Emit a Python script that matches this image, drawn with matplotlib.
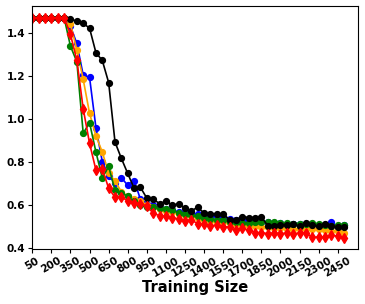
import matplotlib
matplotlib.use("Agg")
import matplotlib.pyplot as plt

train_size = [50, 100, 150, 200, 250, 300, 350, 400, 450, 500,
              550, 600, 650, 700, 750, 800, 850, 900, 950, 1000,
              1050, 1100, 1150, 1200, 1250, 1300, 1350, 1400, 1450, 1500,
              1550, 1600, 1650, 1700, 1750, 1800, 1850, 1900, 1950, 2000,
              2050, 2100, 2150, 2200, 2250, 2300, 2350, 2400, 2450, 2500]

blue = [1.47, 1.47, 1.47, 1.47, 1.47, 1.47, 1.43, 1.350, 1.203, 1.192,
        0.958, 0.800, 0.735, 0.700, 0.725, 0.690, 0.712, 0.625, 0.605, 0.598,
        0.585, 0.580, 0.575, 0.565, 0.565, 0.560, 0.555, 0.550, 0.548, 0.545,
        0.540, 0.535, 0.530, 0.530, 0.525, 0.520, 0.520, 0.518, 0.515, 0.515,
        0.512, 0.512, 0.510, 0.510, 0.508, 0.505, 0.505, 0.521, 0.495, 0.505]

orange = [1.47, 1.47, 1.47, 1.47, 1.47, 1.47, 1.44, 1.32, 1.183, 1.025,
          0.920, 0.845, 0.746, 0.710, 0.660, 0.640, 0.625, 0.615, 0.600, 0.590,
          0.580, 0.570, 0.565, 0.555, 0.550, 0.545, 0.540, 0.530, 0.525, 0.520,
          0.520, 0.515, 0.510, 0.505, 0.500, 0.500, 0.495, 0.495, 0.490, 0.490,
          0.488, 0.485, 0.485, 0.490, 0.485, 0.485, 0.480, 0.478, 0.475, 0.470]

green = [1.47, 1.47, 1.47, 1.47, 1.47, 1.47, 1.337, 1.265, 0.932, 0.981,
         0.845, 0.724, 0.778, 0.667, 0.655, 0.638, 0.615, 0.598, 0.590, 0.590,
         0.585, 0.580, 0.575, 0.560, 0.555, 0.550, 0.545, 0.540, 0.535, 0.530,
         0.530, 0.520, 0.520, 0.515, 0.515, 0.520, 0.518, 0.520, 0.520, 0.515,
         0.515, 0.512, 0.512, 0.510, 0.515, 0.510, 0.505, 0.500, 0.505, 0.505]

black = [1.47, 1.47, 1.47, 1.47, 1.47, 1.47, 1.463, 1.454, 1.444, 1.421,
         1.307, 1.271, 1.168, 0.891, 0.815, 0.745, 0.676, 0.680, 0.630, 0.625,
         0.605, 0.615, 0.598, 0.604, 0.583, 0.571, 0.588, 0.560, 0.558, 0.557,
         0.557, 0.530, 0.529, 0.544, 0.540, 0.540, 0.543, 0.502, 0.502, 0.507,
         0.507, 0.510, 0.500, 0.514, 0.504, 0.500, 0.510, 0.500, 0.497, 0.497]

red = [1.47, 1.47, 1.47, 1.47, 1.47, 1.47, 1.392, 1.272, 1.046, 0.885,
       0.761, 0.767, 0.676, 0.634, 0.637, 0.616, 0.609, 0.605, 0.594, 0.560,
       0.548, 0.545, 0.540, 0.533, 0.525, 0.530, 0.510, 0.508, 0.502, 0.505,
       0.498, 0.495, 0.480, 0.490, 0.480, 0.470, 0.470, 0.465, 0.468, 0.465,
       0.468, 0.465, 0.468, 0.470, 0.447, 0.450, 0.447, 0.460, 0.452, 0.443]

xtick_values = [50, 200, 350, 500, 650, 800, 950, 1100, 1250, 1400,
                1550, 1700, 1850, 2000, 2150, 2300, 2450]
ytick_values = [0.4, 0.6, 0.8, 1.0, 1.2, 1.4]

fig = plt.figure(figsize=(3.65, 3.04), dpi=100)
ax = fig.add_axes([0.0885, 0.182, 0.8925, 0.798])

lw = 1.2
ms = 4.2
ax.plot(train_size, blue, color='blue', marker='o', lw=lw, ms=ms)
ax.plot(train_size, orange, color='orange', marker='o', lw=lw, ms=ms)
ax.plot(train_size, green, color='green', marker='o', lw=lw, ms=ms)
ax.plot(train_size, black, color='black', marker='o', lw=lw, ms=ms)
ax.plot(train_size, red, color='red', marker='d', lw=lw, ms=ms + 0.6)

ax.set_xlim(50, 2610)
ax.set_ylim(0.395, 1.524)
ax.set_xticks(xtick_values)
ax.set_xticklabels([str(v) for v in xtick_values], rotation=30,
                   fontsize=7.5, fontweight='bold')
ax.set_yticks(ytick_values)
ax.set_yticklabels([f"{v:.1f}" for v in ytick_values], fontsize=7.5,
                   fontweight='bold')
ax.tick_params(axis='both', length=3, pad=2)
ax.set_xlabel("Training Size", fontsize=10.5, fontweight='bold', labelpad=1)

fig.savefig("out.png", dpi=100)
